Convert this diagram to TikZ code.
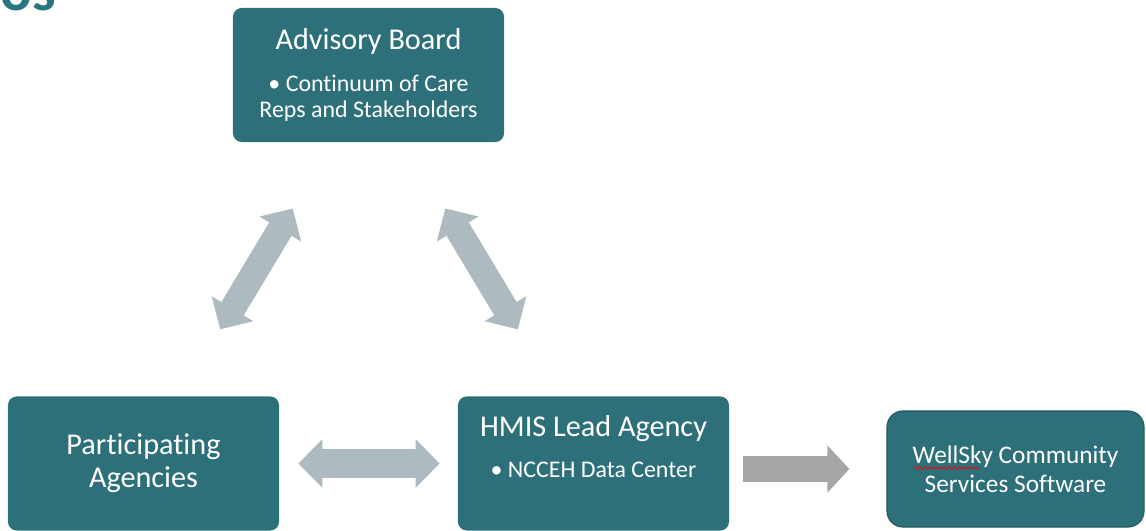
\documentclass[tikz,border=0pt]{standalone}
\usepackage{fontspec}
\setmainfont{Carlito}[Ligatures=NoCommon]
\usetikzlibrary{arrows.meta,calc,decorations.pathmorphing}

\definecolor{cajaazul}{RGB}{45,112,121}
\definecolor{tituloazul}{RGB}{40,118,128}
\definecolor{flechagris}{RGB}{173,187,192}
\definecolor{flechaoscura}{RGB}{166,166,166}

\newcommand{\titulo}{\fontsize{21.5}{23.4}\selectfont}

\tikzset{
  caja/.style={fill=cajaazul, text=white, rounded corners=0.22cm, minimum width=6.775cm,
    minimum height=3.35cm, align=center, inner sep=0pt, font=\fontsize{17}{18.5}\selectfont},
  doble/.style={draw=flechagris, line width=0.7cm,
    {Triangle[width=1.18cm,length=0.6cm]}-{Triangle[width=1.18cm,length=0.6cm]}},
  simple/.style={draw=flechaoscura, line width=0.63cm, -{Triangle[width=1.15cm,length=0.55cm]}},
  onda/.style={draw=red, line width=0.5pt, decorate, decoration={snake, amplitude=1pt, segment length=3.5pt}}
}

\begin{document}
\begin{tikzpicture}[x=0.025cm, y=-0.025cm]
    \useasboundingbox (0,0) rectangle (1146,531);

    % Titulo cortado
    \node[anchor=base west, inner sep=0pt, text=tituloazul, font=\fontsize{42}{42}\selectfont\bfseries] (os) at (0,11) {os};

    % Cajas
    \node[caja] (ab) at (368.5,75) {{\titulo Advisory Board}\\[11pt] • Continuum of Care\\ Reps and Stakeholders};
    \node[caja, font=\titulo] (pa) at (143.5,463.5) {Participating\\ Agencies};
    \node[caja] (hmis) at (593.5,463.5) {{\titulo HMIS Lead Agency}\\[10.5pt] • NCCEH Data Center\\[6pt] \mbox{}};
    \node[caja, draw=cajaazul!80!black, line width=0.8pt, rounded corners=0.4cm, minimum width=6.425cm,
      minimum height=2.9cm, font=\fontsize{18}{20.6}\selectfont] (ws) at (1015.5,469) {WellSky Community\\ Services Software};

    % Subrayado ondulado
    \draw[onda] ($(ws.center)+(-102,-1)$) -- ++(67,0);

    % Flechas
    \draw[doble, line width=0.65cm, shorten <=1.95cm, shorten >=1.93cm] ($(pa.north)+(36.5,0)$) -- ($(ab.south)+(-36,0)$);
    \draw[doble, line width=0.65cm, shorten <=1.93cm, shorten >=1.95cm] ($(ab.south)+(37,0)$) -- ($(hmis.north)+(-35.5,0)$);
    \draw[doble, shorten <=0.475cm, shorten >=0.45cm] (pa.east) -- (hmis.west);
    \draw[simple, shorten <=0.35cm, shorten >=0.925cm] (ws.west -| hmis.east) -- (ws.west);
\end{tikzpicture}
\end{document}
